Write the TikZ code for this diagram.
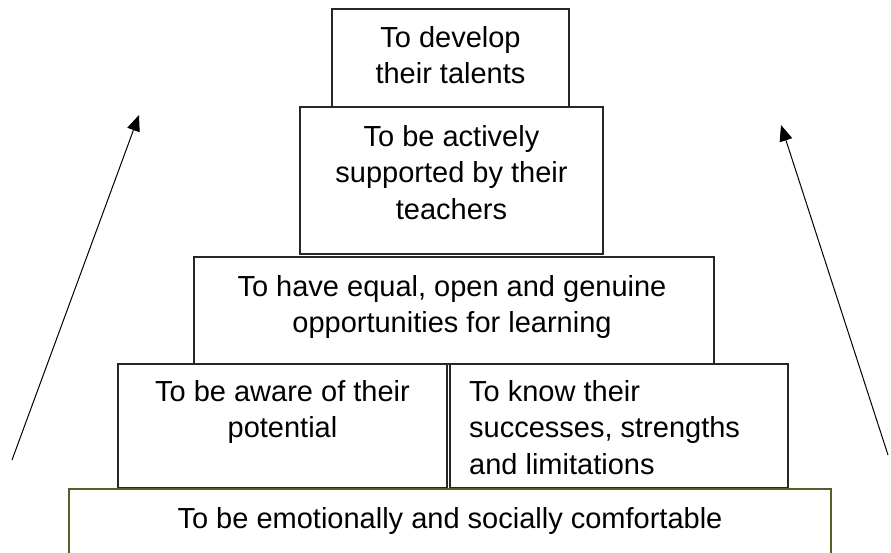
\documentclass[tikz,border=0pt]{standalone}
\usepackage{fontspec}
\setmainfont{Liberation Sans}
\usetikzlibrary{arrows.meta}
\definecolor{olivebox}{HTML}{4F6228}
\tikzset{
  box/.style={draw=black!85, line width=1.3pt, fill=white},
  greenbox/.style={draw=olivebox, line width=2.6pt, fill=white},
  lbl/.style={inner sep=0pt, anchor=north, align=center, font=\fontsize{29}{36.5}\selectfont},
  lbll/.style={inner sep=0pt, anchor=north west, align=left, font=\fontsize{29}{36.5}\selectfont},
  arr/.style={line width=1pt, -{Triangle[length=16pt,width=13pt]}}
}
\begin{document}
\begin{tikzpicture}[x=1pt,y=-1pt]
\useasboundingbox (0,0) rectangle (891,552);
% boxes
\draw[box] (332,9) rectangle (569,107);
\coordinate (topN) at (450.5,26);
\draw[box] (300,107) rectangle (603,254);
\coordinate (secN) at (451.5,125);
\draw[box] (194,257) rectangle (714,364);
\coordinate (thiN) at (452,275);
\draw[box] (118,364) rectangle (447,488);
\coordinate (leftN) at (282.5,380);
\draw[box] (450,364) rectangle (788,488);
\coordinate (rightNW) at (469,380);
\draw[greenbox] (69,489) rectangle (831,570);
\coordinate (botN) at (450,507);
% labels
\node[lbl] (t1) at (topN) {To develop\\their talents};
\node[lbl] (t2) at (secN) {To be actively\\supported by their\\teachers};
\node[lbl] (t3) at (thiN) {To have equal, open and genuine\\opportunities for learning};
\node[lbl] (t4) at (leftN) {To be aware of their\\potential};
\node[lbll] (t5) at (rightNW) {To know their\\successes, strengths\\and limitations};
\node[lbl] (t6) at (botN) {To be emotionally and socially comfortable};
% arrows
\coordinate (la) at (12,460);
\coordinate (lb) at (139,115);
\coordinate (ra) at (888,455);
\coordinate (rb) at (781,125);
\draw[arr] (la) -- (lb);
\draw[arr] (ra) -- (rb);
\end{tikzpicture}
\end{document}
